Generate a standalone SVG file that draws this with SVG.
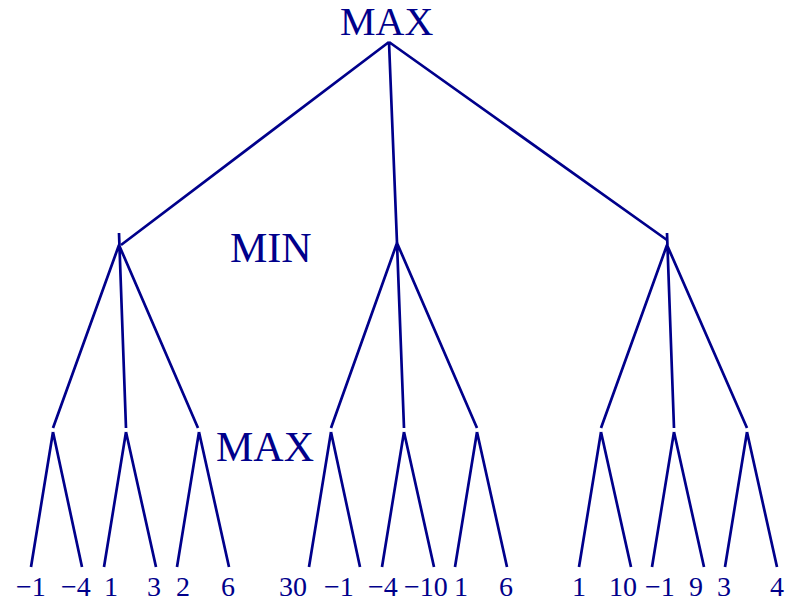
<svg xmlns="http://www.w3.org/2000/svg" width="797" height="601" viewBox="0 0 797 601">
<style>
.e{stroke:#00008b;stroke-width:2.7;fill:none;stroke-linecap:butt}
.big{font-family:"Liberation Serif","Times New Roman",serif;font-size:42px;fill:#00008b}
.leaf{font-family:"Liberation Serif","Times New Roman",serif;font-size:28px;fill:#00008b}
</style>
<rect width="797" height="601" fill="#fff"/>
<g id="labels">
<text class="big" x="340" y="35" style="font-size:40px">MAX</text>
<text class="big" x="230" y="262">MIN</text>
<text class="big" x="216" y="461">MAX</text>
</g>
<g id="connectors">
<path class="e" d="M389 42L121 245M389 42L397 243M389 42L667 240"/>
<path class="e" d="M119 233L126 428M119 245L53 428M119 245L198 428"/>
<path class="e" d="M397 243L404 428M397 243L331 428M397 243L477 428"/>
<path class="e" d="M667 233L674 428M667 245L601 428M667 245L747 428"/>
<path class="e" d="M53 432L31 567M53 432L82 567M126 432L104 567M126 432L156 567M199 432L177 567M199 432L229 567"/>
<path class="e" d="M331 432L309 567M331 432L360 567M404 432L382 567M404 432L434 567M477 432L455 567M477 432L507 567"/>
<path class="e" d="M601 432L579 567M601 432L631 567M674 432L652 567M674 432L704 567M747 432L725 567M747 432L777 567"/>
</g>
<g id="leaves">
<text class="leaf" x="16" y="596">−1</text>
<text class="leaf" x="61" y="596">−4</text>
<text class="leaf" x="104" y="596">1</text>
<text class="leaf" x="147" y="596">3</text>
<text class="leaf" x="176" y="596">2</text>
<text class="leaf" x="221" y="596">6</text>
<text class="leaf" x="279" y="596">30</text>
<text class="leaf" x="324" y="596">−1</text>
<text class="leaf" x="368" y="596">−4</text>
<text class="leaf" x="404" y="596">−10</text>
<text class="leaf" x="454" y="596">1</text>
<text class="leaf" x="499" y="596">6</text>
<text class="leaf" x="572" y="596">1</text>
<text class="leaf" x="609" y="596">10</text>
<text class="leaf" x="645" y="596">−1</text>
<text class="leaf" x="689" y="596">9</text>
<text class="leaf" x="717" y="596">3</text>
<text class="leaf" x="770" y="596">4</text>
</g>
</svg>
